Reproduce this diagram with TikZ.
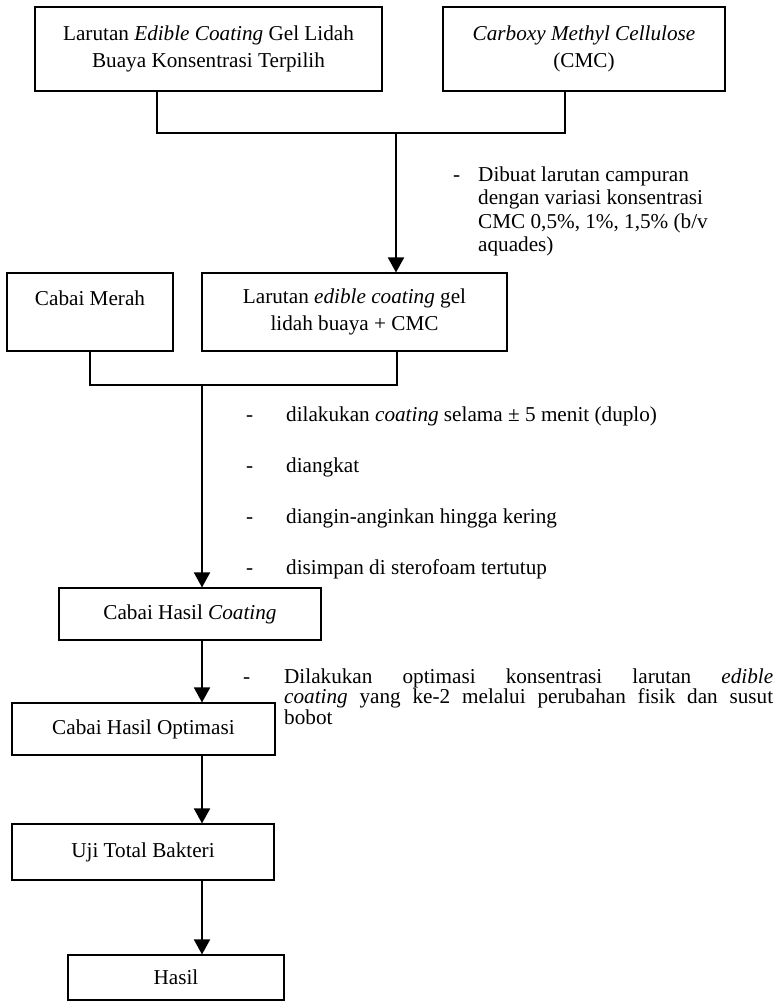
\documentclass[tikz,border=0pt]{standalone}
\usepackage{fontspec}
\setmainfont{Liberation Serif}
\usetikzlibrary{arrows.meta}
\newcommand\boxfont{\fontsize{21.2}{27.5}\selectfont}
\newcommand\annfont{\fontsize{21.2}{23.4}\selectfont}
\begin{document}
\begin{tikzpicture}[x=1pt,y=-1pt,
  box/.style={draw, line width=1.1pt, inner sep=0pt, align=center, font=\boxfont},
  conn/.style={line width=1.8pt},
  arr/.style={conn, -{Triangle[width=16pt,length=15pt]}},
  ann/.style={anchor=base west, inner sep=0pt}
]
\useasboundingbox (0,0) rectangle (781,1002);

% boxes
\node[box, minimum width=347pt, minimum height=84pt] (b1) at (208.5,49)
  {Larutan \textit{Edible Coating} Gel Lidah\\Buaya Konsentrasi Terpilih};
\node[box, minimum width=282pt, minimum height=84pt] (b2) at (584,49)
  {\textit{Carboxy Methyl Cellulose}\\(CMC)};
\node[box, minimum width=166pt, minimum height=78pt] (b3) at (90,312)
  {Cabai Merah\\\mbox{}};
\node[box, minimum width=305pt, minimum height=78pt] (b4) at (354.5,312)
  {Larutan \textit{edible coating} gel\\lidah buaya + CMC};
\node[box, minimum width=262pt, minimum height=52pt] (b5) at (190,614)
  {Cabai Hasil \textit{Coating}};
\node[box, minimum width=263pt, minimum height=52pt] (b6) at (143.5,729)
  {Cabai Hasil Optimasi};
\node[box, minimum width=262pt, minimum height=56pt] (b7) at (143,852)
  {Uji Total Bakteri};
\node[box, minimum width=216pt, minimum height=45pt] (b8) at (176,977.5)
  {Hasil};

% junction coordinates
\coordinate (j1) at (157,133);
\coordinate (j2) at (565,133);
\coordinate (j0) at (396,133);
\coordinate (j4) at (397,385);
\coordinate (j5) at (202,385);
\coordinate (ax) at (202,0);

% connectors
\draw[conn] (b1.south -| j1) -- (j1) -- (j2) -- (b2.south -| j2);
\draw[arr] (j0) -- (b4.north -| j0);
\draw[conn] (b3.south) |- (j4) -- (b4.south -| j4);
\draw[arr] (j5) -- (b5.north -| j5);
\draw[arr] (b5.south -| ax) -- (b6.north -| ax);
\draw[arr] (b6.south -| ax) -- (b7.north -| ax);
\draw[arr] (b7.south -| ax) -- (b8.north -| ax);

% annotations
\node[ann] (n1) at (453,181.5)
  {\annfont\makebox[25pt][l]{-}\parbox[t]{270pt}{\annfont\raggedright
   Dibuat larutan campuran\\dengan variasi konsentrasi\\CMC 0,5\%, 1\%, 1,5\% (b/v\\aquades)}};
\node[ann] (n2) at (246,421)
  {\parbox[t]{520pt}{\fontsize{21.2}{51}\selectfont\raggedright
   \makebox[40pt][l]{-}dilakukan \textit{coating} selama ± 5 menit (duplo)\\
   \makebox[40pt][l]{-}diangkat\\
   \makebox[40pt][l]{-}diangin-anginkan hingga kering\\
   \makebox[40pt][l]{-}disimpan di sterofoam tertutup}};
\node[ann] (n3) at (243,683)
  {\annfont\makebox[41pt][l]{-}\parbox[t]{489pt}{\fontsize{21.2}{20.5}\selectfont
   \hyphenpenalty=10000 \exhyphenpenalty=10000
   Dilakukan optimasi konsentrasi larutan \textit{edible}\linebreak
   \textit{coating} yang ke-2 melalui perubahan fisik dan susut bobot}};
\end{tikzpicture}
\end{document}
